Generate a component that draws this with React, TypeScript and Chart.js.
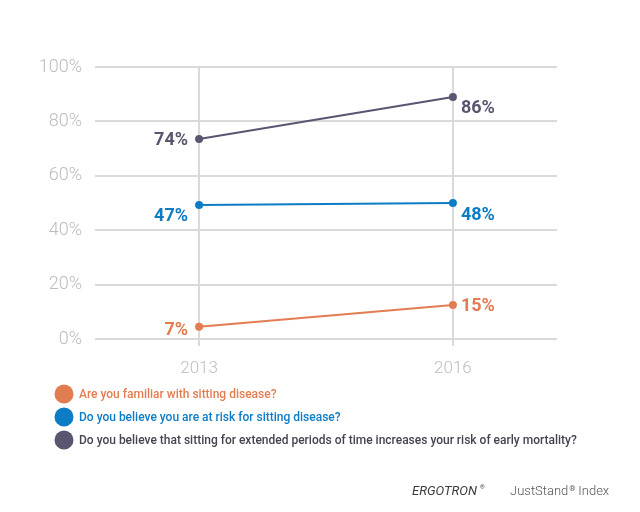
import React, { useEffect, useRef } from "react";
import { Chart, registerables } from "chart.js";

Chart.register(...registerables);

// ---- data ----
const years = [2013, 2016];
const familiarValues = [4.5, 12.5];
const atRiskValues = [49.3, 50];
const mortalityValues = [73.5, 89];
const familiarLabels = ["7%", "15%"];
const atRiskLabels = ["47%", "48%"];
const mortalityLabels = ["74%", "86%"];
const yTickValues = [0, 20, 40, 60, 80, 100];
const seriesNames = [
  "Are you familiar with sitting disease?",
  "Do you believe you are at risk for sitting disease?",
  "Do you believe that sitting for extended periods of time increases your risk of early mortality?",
];
const seriesColors = ["#E27D51", "#0C7CC4", "#5A566F"];
const legendTextColors = ["#E27D51", "#0C7CC4", "#46434F"];

const valueLabelPlugin = {
  id: "valueLabels",
  afterDatasetsDraw(chart: any) {
    const ctx = chart.ctx;
    const dy: number[][] = [
      [4, 1],
      [12, 12],
      [1, 12],
    ];
    chart.data.datasets.forEach((ds: any, di: number) => {
      const meta = chart.getDatasetMeta(di);
      meta.data.forEach((pt: any, i: number) => {
        ctx.save();
        ctx.font = "bold 18px Roboto";
        ctx.fillStyle = ds.borderColor;
        ctx.textBaseline = "middle";
        if (i === 0) {
          ctx.textAlign = "right";
          ctx.fillText(ds.valueLabels[i], pt.x - 11, pt.y + dy[di][i]);
        } else {
          ctx.textAlign = "left";
          ctx.fillText(ds.valueLabels[i], pt.x + 8, pt.y + dy[di][i]);
        }
        ctx.restore();
      });
    });
  },
};

const legendPlugin = {
  id: "customLegend",
  afterDraw(chart: any) {
    const ctx = chart.ctx;
    const rows = [394, 417, 440];
    seriesNames.forEach((name, i) => {
      ctx.save();
      ctx.fillStyle = seriesColors[i];
      ctx.beginPath();
      ctx.arc(64, rows[i], 9.5, 0, Math.PI * 2);
      ctx.fill();
      ctx.font = "500 12px Roboto";
      ctx.fillStyle = legendTextColors[i];
      ctx.textAlign = "left";
      ctx.textBaseline = "middle";
      ctx.fillText(name, 79, rows[i] + 1);
      ctx.restore();
    });
    // footer
    ctx.save();
    ctx.fillStyle = "#3c3c3c";
    ctx.font = "italic 400 13px Roboto";
    ctx.textBaseline = "middle";
    ctx.textAlign = "left";
    ctx.fillText("ERGOTRON", 412, 492);
    ctx.font = "6px Roboto";
    ctx.fillText("®", 480, 487);
    ctx.fillStyle = "#555555";
    ctx.font = "300 13px Roboto";
    ctx.fillText("JustStand", 510, 492);
    const w = ctx.measureText("JustStand").width;
    ctx.font = "8px Roboto";
    ctx.fillText("®", 510 + w + 1, 489);
    ctx.font = "300 13px Roboto";
    ctx.fillText("Index", 510 + w + 10, 492);
    ctx.restore();
  },
};

export default function App() {
  const ref = useRef<HTMLCanvasElement | null>(null);
  useEffect(() => {
    if (!ref.current) return;
    const mk = (vals: number[]) => vals.map((v, i) => ({ x: years[i], y: v }));
    const chart = new Chart(ref.current, {
      type: "line",
      data: {
        datasets: [
          { label: seriesNames[0], data: mk(familiarValues), valueLabels: familiarLabels } as any,
          { label: seriesNames[1], data: mk(atRiskValues), valueLabels: atRiskLabels } as any,
          { label: seriesNames[2], data: mk(mortalityValues), valueLabels: mortalityLabels } as any,
        ].map((d: any, i: number) => ({
          ...d,
          borderColor: seriesColors[i],
          backgroundColor: seriesColors[i],
          pointBackgroundColor: seriesColors[i],
          pointBorderWidth: 0,
          pointRadius: 4,
          borderWidth: 2,
          tension: 0,
        })),
      },
      options: {
        animation: false,
        responsive: false,
        layout: { padding: { top: 67, left: 0, right: 83, bottom: 0 } },
        plugins: { legend: { display: false }, tooltip: { enabled: false } },
        scales: {
          x: {
            type: "linear",
            min: 2011.77,
            max: 2017.23,
            afterBuildTicks: (s: any) => {
              s.ticks = years.map((v) => ({ value: v }));
            },
            afterFit: (s: any) => {
              s.height = 173;
            },
            ticks: {
              callback: (v: any) => String(v),
              font: { family: "Roboto", size: 17, weight: "300" },
              color: "#BDBDBD",
              padding: 13,
              autoSkip: false,
              maxRotation: 0,
            },
            grid: { color: "#DADADA", lineWidth: 2, drawTicks: true, tickLength: 7 },
            border: { display: false },
          },
          y: {
            min: 0,
            max: 100,
            afterBuildTicks: (s: any) => {
              s.ticks = yTickValues.map((v) => ({ value: v }));
            },
            afterFit: (s: any) => {
              s.width = 95;
            },
            ticks: {
              callback: (v: any) => v + "%",
              font: { family: "Roboto", size: 18, weight: "300" },
              color: "#BDBDBD",
              padding: 13,
            },
            grid: { color: "#DADADA", lineWidth: 2, drawTicks: false },
            border: { display: false },
          },
        },
      } as any,
      plugins: [valueLabelPlugin, legendPlugin],
    });
    return () => chart.destroy();
  }, []);
  return (
    <div style={{ position: "fixed", left: 0, top: 0, width: 640, height: 512, background: "#fff" }}>
      <canvas ref={ref} width={640} height={512} style={{ width: 640, height: 512, display: "block" }} />
    </div>
  );
}
